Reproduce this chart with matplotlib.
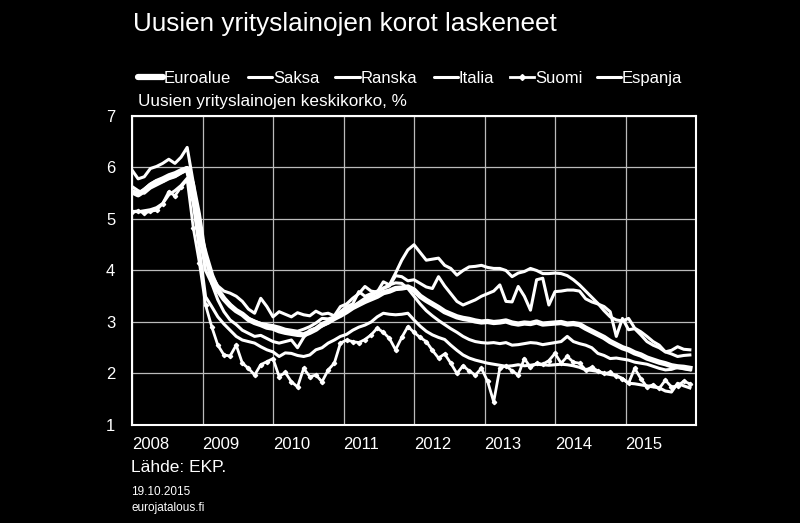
import numpy as np
import matplotlib
matplotlib.use("Agg")
import matplotlib.pyplot as plt
from matplotlib.lines import Line2D

plt.rcParams['font.family'] = ['Liberation Sans', 'DejaVu Sans']

# kuukausittaiset korot, tammikuu 2008 - elokuu 2015
euroalue = [5.53, 5.47, 5.55, 5.65, 5.72, 5.75, 5.82, 5.85, 5.92, 5.98, 5.5, 4.75,
            4.3, 3.9, 3.62, 3.45, 3.32, 3.22, 3.15, 3.05, 2.99, 2.95, 2.9, 2.88,
            2.83, 2.8, 2.78, 2.76, 2.75, 2.8, 2.86, 2.95, 3.0, 3.07, 3.13, 3.2,
            3.28, 3.34, 3.4, 3.45, 3.5, 3.57, 3.6, 3.65, 3.66, 3.68, 3.62, 3.5,
            3.42, 3.35, 3.28, 3.2, 3.15, 3.1, 3.07, 3.05, 3.02, 3.0, 3.01, 2.99,
            3.0, 3.02, 2.98, 2.96, 2.98, 2.97, 3.0, 2.96, 2.97, 2.98, 2.99, 2.96,
            2.97, 2.95, 2.88, 2.82, 2.76, 2.7, 2.62, 2.56, 2.5, 2.46, 2.4, 2.36,
            2.3, 2.26, 2.22, 2.19, 2.15, 2.13, 2.12, 2.1]
saksa = [5.63, 5.55, 5.5, 5.6, 5.66, 5.72, 5.78, 5.82, 5.89, 5.95, 5.4, 4.7,
         4.0, 3.75, 3.43, 3.2, 3.04, 2.95, 2.84, 2.78, 2.72, 2.74, 2.68, 2.62,
         2.59, 2.62, 2.65, 2.5, 2.7, 2.84, 2.88, 2.92, 2.98, 3.07, 3.15, 3.25,
         3.3, 3.38, 3.46, 3.52, 3.58, 3.66, 3.72, 3.76, 3.75, 3.65, 3.5, 3.35,
         3.22, 3.12, 3.03, 2.95, 2.87, 2.8, 2.72, 2.66, 2.62, 2.6, 2.59, 2.6,
         2.58, 2.6, 2.55, 2.56, 2.58, 2.6, 2.59, 2.56, 2.58, 2.6, 2.62, 2.72,
         2.62, 2.58, 2.55, 2.5, 2.39, 2.35, 2.29, 2.3, 2.28, 2.26, 2.22, 2.2,
         2.18, 2.14, 2.1, 2.07, 2.08, 2.12, 2.09, 2.07]
ranska = [5.15, 5.14, 5.16, 5.18, 5.22, 5.3, 5.47, 5.55, 5.65, 5.79, 5.3, 4.4,
          3.49, 3.3, 3.1, 2.96, 2.84, 2.72, 2.65, 2.62, 2.59, 2.52, 2.46, 2.42,
          2.33, 2.4, 2.39, 2.35, 2.33, 2.36, 2.46, 2.5, 2.59, 2.65, 2.72, 2.76,
          2.84, 2.9, 2.94, 3.0, 3.1, 3.17, 3.15, 3.14, 3.15, 3.17, 3.04, 2.92,
          2.82, 2.75, 2.7, 2.66, 2.55, 2.45, 2.36, 2.3, 2.26, 2.23, 2.2, 2.18,
          2.16, 2.14, 2.15, 2.17, 2.15, 2.16, 2.18, 2.17, 2.16, 2.17, 2.18, 2.17,
          2.15, 2.12, 2.07, 2.06, 2.04, 2.0, 1.98, 1.96, 1.9, 1.81, 1.8, 1.78,
          1.76, 1.74, 1.72, 1.66, 1.64, 1.81, 1.76, 1.72]
italia = [5.55, 5.5, 5.58, 5.68, 5.75, 5.8, 5.86, 5.9, 5.96, 6.0, 5.7, 5.1,
          4.3, 3.75, 3.6, 3.46, 3.34, 3.23, 3.15, 3.07, 3.02, 2.97, 2.95, 2.93,
          2.9, 2.86, 2.84, 2.82, 2.86, 2.91, 2.98, 3.07, 3.06, 3.1, 3.2, 3.3,
          3.35, 3.59, 3.5, 3.55, 3.6, 3.65, 3.7, 3.9, 3.88, 3.8, 3.82, 3.75,
          3.68, 3.65, 3.88, 3.7, 3.55, 3.4, 3.33, 3.38, 3.43, 3.5, 3.55, 3.6,
          3.72, 3.4, 3.39, 3.69, 3.5, 3.23, 3.82, 3.85, 3.33, 3.59, 3.6, 3.62,
          3.62, 3.6, 3.45, 3.39, 3.35, 3.3, 3.2, 2.72, 3.07, 2.85, 2.87, 2.75,
          2.62, 2.55, 2.5, 2.42, 2.38, 2.33, 2.35, 2.36]
suomi = [5.14, 5.16, 5.11, 5.15, 5.17, 5.3, 5.53, 5.45, 5.62, 5.76, 4.82, 4.14,
         3.33, 2.91, 2.55, 2.36, 2.34, 2.55, 2.2, 2.1, 1.97, 2.17, 2.23, 2.29,
         1.94, 2.02, 1.84, 1.74, 2.1, 1.94, 1.97, 1.84, 2.07, 2.2, 2.59, 2.65,
         2.62, 2.6, 2.66, 2.75, 2.88, 2.8, 2.68, 2.46, 2.7, 2.91, 2.8, 2.7,
         2.62, 2.45, 2.3, 2.38, 2.2, 2.0, 2.15, 2.05, 1.97, 2.1, 1.85, 1.45,
         2.1, 2.15, 2.05, 1.97, 2.29, 2.12, 2.2, 2.18, 2.25, 2.39, 2.2, 2.33,
         2.22, 2.2, 2.07, 2.12, 2.05, 2.0, 2.02, 1.95, 1.9, 1.81, 2.1, 1.9,
         1.74, 1.78, 1.71, 1.87, 1.74, 1.76, 1.85, 1.8]
espanja = [5.95, 5.78, 5.82, 5.98, 6.02, 6.08, 6.16, 6.08, 6.2, 6.39, 5.7, 4.9,
           4.3, 3.9, 3.7, 3.6, 3.56, 3.5, 3.4, 3.25, 3.17, 3.46, 3.3, 3.1,
           3.2, 3.15, 3.1, 3.18, 3.14, 3.12, 3.21, 3.15, 3.17, 3.12, 3.3, 3.35,
           3.46, 3.55, 3.69, 3.6, 3.58, 3.78, 3.72, 3.95, 4.2, 4.4, 4.5, 4.35,
           4.2, 4.22, 4.24, 4.1, 4.04, 3.91, 4.0, 4.07, 4.08, 4.1, 4.06, 4.04,
           4.04, 4.0, 3.88, 3.95, 3.98, 4.04, 4.0, 3.94, 3.94, 3.95, 3.94, 3.9,
           3.82, 3.72, 3.6, 3.48, 3.36, 3.22, 3.1, 3.04, 3.02, 3.07, 2.88, 2.81,
           2.72, 2.62, 2.55, 2.42, 2.45, 2.52, 2.47, 2.46]
vuodet = ['2008', '2009', '2010', '2011', '2012', '2013', '2014', '2015']
nimet = ['Euroalue', 'Saksa', 'Ranska', 'Italia', 'Suomi', 'Espanja']

x = np.arange(len(euroalue))
W, H = 800, 523

fig = plt.figure(figsize=(8, 5.23), dpi=100, facecolor='black')
ax = fig.add_axes([0.165, 0.1874, 0.705, 0.5908], facecolor='black')

ax.plot(x, espanja, color='white', lw=2.2)
ax.plot(x, italia, color='white', lw=2.2)
ax.plot(x, ranska, color='white', lw=2.2)
ax.plot(x, saksa, color='white', lw=2.2)
ax.plot(x, suomi, color='white', lw=2.0, marker='D', ms=2.2)
ax.plot(x, euroalue, color='white', lw=3.8)

ax.set_xlim(0, 92)
ax.set_ylim(1, 7)
ax.set_yticks(range(1, 8))
ax.set_xticks(np.linspace(0, 92, 9))
ax.set_xticklabels(vuodet + [''], ha='left')
ax.tick_params(colors='white', labelsize=12, length=0)
ax.tick_params(axis='y', pad=12)
ax.tick_params(axis='x', pad=9)
ax.grid(True, color='#bbbbbb', lw=0.9)
for s in ax.spines.values():
    s.set_color('white')
    s.set_linewidth(1.5)

# selite piirretään käsin, jotta rivi on tasainen
leg_y = 1 - 77 / H
handle_x = [(138, 163), (248, 272), (335, 360), (434, 458), (510, 534), (597, 621)]
leveys = [4.5, 2.2, 2.2, 2.2, 2.0, 2.2]
for i, (nimi, (x0, x1)) in enumerate(zip(nimet, handle_x)):
    if nimi == 'Suomi':
        ln = Line2D([x0 / W, (x0 + x1) / 2 / W, x1 / W], [leg_y] * 3,
                    transform=fig.transFigure, color='white', lw=leveys[i],
                    marker='D', ms=3, markevery=[1])
    else:
        ln = Line2D([x0 / W, x1 / W], [leg_y, leg_y], transform=fig.transFigure,
                    color='white', lw=leveys[i], solid_capstyle='round')
    fig.add_artist(ln)
    fig.text((x1 + 1) / W, leg_y, nimi, color='white', fontsize=12,
             va='center_baseline', ha='left')

fig.text(133 / W, 1 - 24 / H, 'Uusien yrityslainojen korot laskeneet',
         color='white', fontsize=18.8, va='center', ha='left')
fig.text(138 / W, 1 - 101 / H, 'Uusien yrityslainojen keskikorko, %',
         color='white', fontsize=12.3, va='center', ha='left')
fig.text(131 / W, 1 - 468 / H, 'Lähde: EKP.', color='white',
         fontsize=12.5, va='center', ha='left')
fig.text(131 / W, 1 - 492 / H, '19.10.2015', color='white',
         fontsize=8.5, va='center', ha='left')
fig.text(131 / W, 1 - 508 / H, 'eurojatalous.fi', color='white',
         fontsize=8.5, va='center', ha='left')

fig.savefig('out.png', dpi=100, facecolor='black')
